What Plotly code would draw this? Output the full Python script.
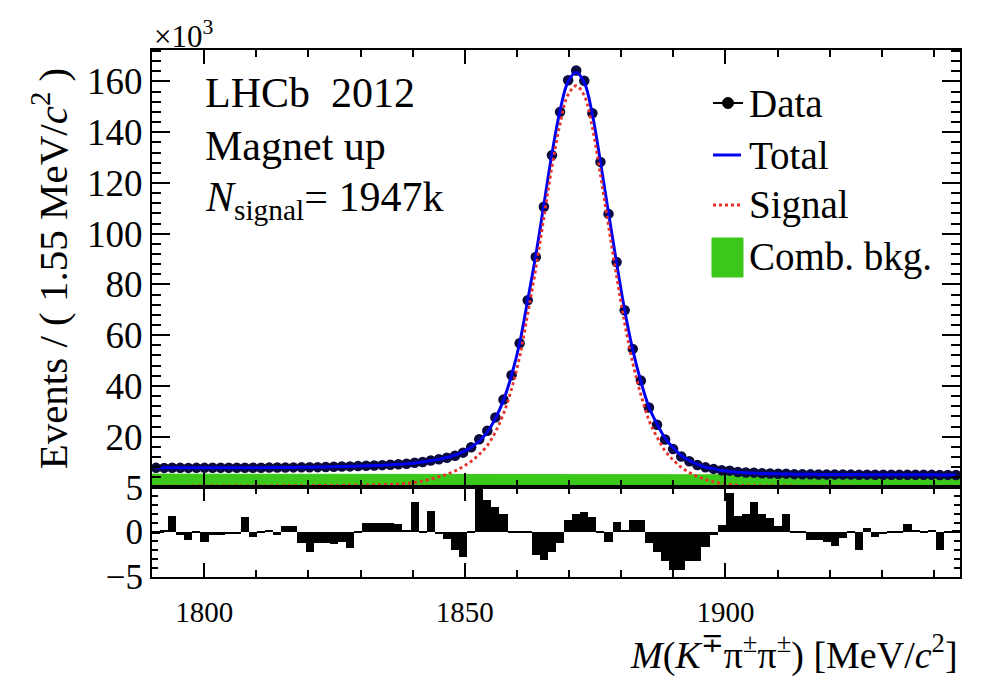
import plotly.graph_objects as go

# ---------------- data (values in thousands of events) ----------------
x_lo = 1790.0
bin_w = 1.55
n_bins = 100
bin_centers = [round(x_lo + bin_w * (i + 0.5), 3) for i in range(n_bins)]

data_k = [7.71, 7.69, 7.73, 7.70, 7.69, 7.71, 7.70, 7.72, 7.72, 7.73, 7.74, 7.76,
          7.76, 7.78, 7.80, 7.82, 7.86, 7.89, 7.91, 7.95, 7.98, 8.05, 8.12, 8.21, 8.28,
          8.40, 8.53, 8.63, 8.78, 8.93, 9.13, 9.31, 9.70, 10.0, 10.6, 11.1,
          11.7, 12.5, 13.7, 15.8, 19.0, 22.3, 27.6, 34.6, 44.2, 56.8, 73.8, 90.8,
          110.6, 130.9, 148.0, 160.5, 164.3, 160.3, 147.5, 128.3, 107.8, 88.8, 69.8, 54.6, 42.1, 31.5, 24.7, 18.9,
          15.1, 12.2, 10.3, 8.8, 7.9, 7.3, 6.73, 6.6, 6.1, 5.9, 5.82, 5.6, 5.49, 5.38, 5.42, 5.23,
          5.19, 5.14, 5.11, 5.09, 5.06, 5.06, 5.05, 4.99, 5.03, 5.00, 5.00, 5.00, 4.99, 5.00, 4.97, 4.96, 4.95, 4.88, 4.93, 4.92]

total_k = [7.70, 7.70, 7.70, 7.70, 7.70, 7.71, 7.71, 7.72, 7.72, 7.73, 7.74, 7.75,
           7.76, 7.78, 7.80, 7.82, 7.85, 7.88, 7.92, 7.97, 8.02, 8.08, 8.15, 8.24, 8.30,
           8.40, 8.50, 8.60, 8.75, 8.90, 9.10, 9.30, 9.60, 10.0, 10.5, 11.1,
           11.8, 12.7, 14.0, 15.8, 18.3, 21.8, 27.2, 34.3, 44.2, 56.8, 73.8, 91.5,
           111.5, 131.5, 148.5, 160.0, 163.5, 159.6, 147.0, 128.3, 108.2, 88.4, 69.8, 54.2, 41.8, 31.7, 25.0, 19.4,
           15.6, 12.6, 10.6, 9.1, 8.0, 7.3, 6.7, 6.3, 6.0, 5.8, 5.65, 5.52, 5.42, 5.34, 5.28, 5.23,
           5.19, 5.16, 5.13, 5.11, 5.09, 5.07, 5.05, 5.04, 5.03, 5.02, 5.01, 5.00, 4.99, 4.98, 4.97, 4.96, 4.95, 4.94, 4.93, 4.92]

signal_k = [0.50, 0.51, 0.52, 0.53, 0.54, 0.55, 0.56, 0.57, 0.58, 0.59, 0.60, 0.61, 0.62, 0.63, 0.64, 0.66,
            0.68, 0.70, 0.72, 0.74, 0.76, 0.79, 0.82, 0.85, 0.89, 0.93, 0.98, 1.04, 1.12, 1.22, 1.36, 1.60,
            1.9, 2.5, 3.3, 4.2, 5.2, 6.5, 8.2, 10.3, 13.0, 16.5, 21.9, 29.0, 38.8, 51.4, 68.4, 86.2,
            106.3, 126.3, 143.3, 154.8, 158.3, 154.4, 141.8, 123.1, 103.0, 83.2, 64.6, 49.0, 36.6, 26.5,
            19.8, 14.4, 10.8, 7.9, 5.9, 4.3, 3.1, 2.2, 1.6, 1.2, 0.9, 0.75,
            0.68, 0.64, 0.61, 0.58, 0.56, 0.54, 0.52, 0.50, 0.49, 0.48, 0.47, 0.46, 0.45, 0.44, 0.43, 0.42,
            0.41, 0.40, 0.40, 0.39, 0.38, 0.38, 0.37, 0.37, 0.36, 0.36]

comb_x = [1790.0, 1945.0]
comb_k = [5.25, 4.85]

pulls = [-0.2, 0.1, 1.8, -0.4, -0.9, -0.1, -1.1, -0.4, -0.4, -0.3,
         -0.3, 1.7, -0.6, -0.1, 0.2, -0.4, 0.7, 0.6, -1.3, -2.2,
         -1.3, -1.2, -1.4, -1.1, -1.8, -0.1, 1.0, 1.0, 1.0, 1.0,
         0.9, 0.2, 3.3, -0.1, 2.3, -0.3, -0.8, -2.0, -2.8, -0.1,
         5.0, 3.5, 2.8, 2.0, -0.1, -0.1, -0.1, -2.6, -3.1, -2.2,
         -1.3, 1.3, 2.0, 2.2, 1.7, -0.1, -1.1, 1.1, 0.2, 1.3,
         1.3, -1.3, -2.2, -3.3, -4.3, -4.3, -3.3, -3.3, -1.7, -0.4,
         0.8, 4.3, 1.8, 2.0, 3.3, 2.0, 1.5, 0.6, 2.0, -0.1,
         -0.1, -0.9, -0.9, -1.1, -1.6, -0.7, -0.1, -2.0, 0.4, -0.6,
         -0.3, -0.1, -0.1, 0.9, 0.1, -0.1, 0.1, -2.0, -0.1, 0.1]

x_ticks = [1800, 1850, 1900]
y_ticks = [20, 40, 60, 80, 100, 120, 140, 160]
pull_ticks = [-5, 0, 5]

legend_labels = ["Data", "Total", "Signal", "Comb. bkg."]

FONT = "Liberation Serif"
BLUE = "#0000f0"
RED = "#e8302a"
GREEN = "#3cc81a"
MARKER = "#0a0a3c"

fig = go.Figure()

fig.add_trace(go.Scatter(x=comb_x, y=comb_k, mode="lines", fill="tozeroy",
                         fillcolor=GREEN, line=dict(color=GREEN, width=1),
                         name="Comb. bkg.", showlegend=False, xaxis="x", yaxis="y"))
fig.add_trace(go.Scatter(x=bin_centers, y=data_k, mode="markers",
                         marker=dict(color=MARKER, size=10.5),
                         name="Data", showlegend=False, xaxis="x", yaxis="y"))
fig.add_trace(go.Scatter(x=bin_centers, y=total_k, mode="lines", line_shape="spline",
                         line=dict(color=BLUE, width=3),
                         name="Total", showlegend=False, xaxis="x", yaxis="y"))
fig.add_trace(go.Scatter(x=bin_centers, y=signal_k, mode="lines", line_shape="spline",
                         line=dict(color=RED, width=2.8, dash="dot"),
                         name="Signal", showlegend=False, xaxis="x", yaxis="y"))
fig.add_trace(go.Bar(x=bin_centers, y=pulls, width=bin_w, marker=dict(color="black", line=dict(width=0)),
                     showlegend=False, xaxis="x2", yaxis="y2"))

axis_common = dict(showline=True, linecolor="black", linewidth=2, mirror="ticks",
                   ticks="inside", tickcolor="black", tickwidth=2, showgrid=False,
                   zeroline=False)

fig.update_layout(
    width=982, height=680,
    margin=dict(l=152, r=22, t=50, b=103),
    paper_bgcolor="white", plot_bgcolor="white",
    font=dict(family=FONT, color="black", size=30),
    bargap=0,
    showlegend=False,
    xaxis=dict(domain=[0, 1], range=[1790, 1945], anchor="y", tickvals=x_ticks,
               showticklabels=False, ticklen=14,
               minor=dict(dtick=10, tick0=1790, ticklen=7, ticks="inside", tickcolor="black", tickwidth=2),
               **axis_common),
    yaxis=dict(domain=[0.17, 1], range=[0, 172.4], anchor="x", tickvals=y_ticks,
               ticklen=18, tickfont=dict(size=37),
               minor=dict(dtick=4, tick0=0, ticklen=9, ticks="inside", tickcolor="black", tickwidth=2),
               **axis_common),
    xaxis2=dict(domain=[0, 1], range=[1790, 1945], anchor="y2", matches="x", tickvals=x_ticks,
                ticklen=14, tickfont=dict(size=29), ticklabelstandoff=8,
                minor=dict(dtick=10, tick0=1790, ticklen=7, ticks="inside", tickcolor="black", tickwidth=2),
                **axis_common),
    yaxis2=dict(domain=[0, 0.17], range=[-5, 5], anchor="x2", tickvals=pull_ticks,
                ticklen=12, tickfont=dict(size=35),
                minor=dict(dtick=1, tick0=-5, ticklen=6, ticks="inside", tickcolor="black", tickwidth=2),
                **axis_common),
)


def px_x(px):
    return (px - 152) / 808.0


def px_y(py):
    return (577 - py) / 527.0


annotations = [
    dict(text="×10<sup>3</sup>", x=0.0, y=1.0, xref="paper", yref="paper",
         xanchor="left", yanchor="bottom", showarrow=False, font=dict(size=31), yshift=-6),
    dict(text="LHCb  2012", x=0.063, y=0.918, xref="paper", yref="paper",
         xanchor="left", yanchor="middle", showarrow=False, font=dict(size=42)),
    dict(text="Magnet up", x=0.063, y=0.818, xref="paper", yref="paper",
         xanchor="left", yanchor="middle", showarrow=False, font=dict(size=42)),
    dict(text="<i>N</i><sub>signal</sub>= 1947k", x=0.063, y=0.716, xref="paper", yref="paper",
         xanchor="left", yanchor="middle", showarrow=False, font=dict(size=42)),
    dict(text="Events / ( 1.55 MeV/<i>c</i><sup>2</sup> )", x=-0.126, y=0.586, xref="paper", yref="paper",
         xanchor="center", yanchor="middle", textangle=-90, showarrow=False, font=dict(size=41)),
    dict(text="<i>M</i>(<i>K</i><sup>∓</sup>π<sup>±</sup>π<sup>±</sup>) [MeV/<i>c</i><sup>2</sup>]",
         x=1.0, y=px_y(652), xref="paper", yref="paper",
         xanchor="right", yanchor="middle", showarrow=False, font=dict(size=38)),
]

# legend (drawn by hand to match spacing of the original)
legend_y_px = [103, 155, 205, 257]
for lab, ypx in zip(legend_labels, legend_y_px):
    annotations.append(dict(text=lab, x=px_x(747), y=px_y(ypx), xref="paper", yref="paper",
                            xanchor="left", yanchor="middle", showarrow=False,
                            font=dict(size=39)))

shapes = [
    # Data: marker with horizontal bar
    dict(type="line", xref="paper", yref="paper", x0=px_x(713), x1=px_x(743),
         y0=px_y(103), y1=px_y(103), line=dict(color="black", width=2)),
    dict(type="circle", xref="paper", yref="paper", x0=px_x(722.5), x1=px_x(733.5),
         y0=px_y(108.5), y1=px_y(97.5), fillcolor="black", line=dict(color="black", width=1)),
    # Total
    dict(type="line", xref="paper", yref="paper", x0=px_x(713), x1=px_x(741),
         y0=px_y(155), y1=px_y(155), line=dict(color=BLUE, width=3)),
    # Signal
    dict(type="line", xref="paper", yref="paper", x0=px_x(713), x1=px_x(741),
         y0=px_y(205), y1=px_y(205), line=dict(color=RED, width=2.8, dash="dot")),
    # Comb. bkg.
    dict(type="rect", xref="paper", yref="paper", x0=px_x(712), x1=px_x(743),
         y0=px_y(277), y1=px_y(238), fillcolor=GREEN, line=dict(color=GREEN, width=1)),
]

fig.update_layout(annotations=annotations, shapes=shapes)

fig.write_html("out.html")
